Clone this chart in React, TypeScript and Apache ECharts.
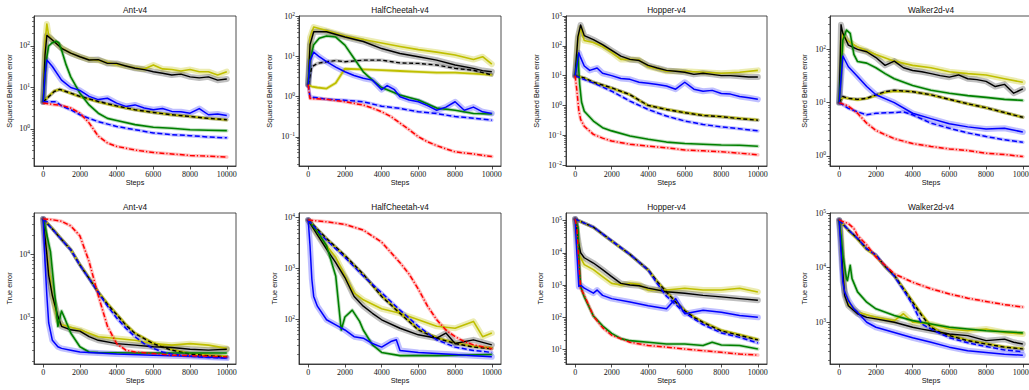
import React, { useEffect, useRef } from 'react';
import * as echarts from 'echarts';

type P = [number, number][];

const X_TICKS = [0, 2000, 4000, 6000, 8000, 10000];
const TITLES = ['Ant-v4', 'HalfCheetah-v4', 'Hopper-v4', 'Walker2d-v4'];
const Y_LABELS = ['Squared Bellman error', 'True error'];

// ---------- Ant-v4, squared Bellman error ----------
const antB_red: P = [[0, 4.2], [500, 3.9], [1000, 3.7], [1500, 3.2], [2000, 2.4], [2500, 1.4], [3000, 0.67], [3500, 0.46], [4000, 0.38], [5000, 0.31], [6000, 0.27], [7000, 0.25], [8000, 0.23], [9000, 0.22], [10000, 0.21]];
const antB_blueD: P = [[0, 4.5], [400, 4.5], [700, 4.5], [1000, 3.6], [1500, 2.9], [2000, 2.2], [2500, 1.8], [3000, 1.5], [4000, 1.15], [5000, 0.96], [6000, 0.8], [7000, 0.73], [8000, 0.69], [9000, 0.64], [10000, 0.61]];
const antB_green: P = [[0, 4.5], [150, 40], [300, 100], [500, 120], [700, 130], [850, 120], [1000, 80], [1250, 35], [1500, 18], [2000, 7.3], [2500, 3.8], [3000, 2.4], [3500, 1.8], [4000, 1.6], [5000, 1.27], [6000, 1.1], [7000, 1.04], [8000, 0.96], [9000, 0.93], [10000, 0.91]];
const antB_blueS: P = [[0, 4.5], [100, 20], [200, 46], [500, 32], [1000, 15], [1500, 10], [2000, 8.5], [2500, 6.1], [3000, 5.1], [3500, 5.5], [4000, 4.2], [4500, 3.5], [5000, 3.8], [5500, 3.2], [6000, 2.9], [6500, 3.1], [7000, 2.65], [7500, 2.6], [8000, 2.4], [8500, 3.1], [9000, 2.2], [9500, 2.3], [10000, 2.1]];
const antB_blackD: P = [[0, 4.5], [300, 6], [600, 8], [900, 9], [1500, 7.3], [2000, 6.1], [3000, 4.6], [4000, 3.6], [5000, 2.9], [6000, 2.5], [7000, 2.2], [8000, 2.0], [9000, 1.8], [10000, 1.67]];
const antB_yellowL: P = [[0, 4.5], [300, 6.2], [600, 8.2], [900, 9], [1500, 7.2], [2000, 6], [3000, 4.5], [4000, 3.5], [5000, 2.9], [6000, 2.5], [7000, 2.2], [8000, 2.0], [9000, 1.8], [10000, 1.65]];
const antB_blackS: P = [[0, 4.5], [100, 60], [200, 180], [500, 140], [1000, 88], [1500, 67], [2000, 55], [2500, 46], [3000, 47], [3500, 38], [4000, 38], [4500, 33], [5000, 29], [5500, 27], [6000, 24], [6500, 22], [7000, 20], [7500, 21], [8000, 18], [8500, 17], [9000, 18], [9500, 15], [10000, 16]];
const antB_yellowU: P = [[0, 4.5], [100, 120], [200, 340], [300, 180], [500, 140], [1000, 90], [1500, 68], [2000, 55], [2500, 47], [3000, 45], [3500, 40], [4000, 36], [4500, 33], [5000, 30], [5500, 28], [6000, 35], [6500, 28], [7000, 27], [7500, 25], [8000, 27], [8500, 24], [9000, 24], [9500, 20], [10000, 24]];

// ---------- HalfCheetah-v4, squared Bellman error ----------
const hcB_red: P = [[0, 2], [100, 0.9], [1000, 0.86], [2000, 0.75], [3000, 0.62], [3500, 0.52], [4000, 0.42], [4500, 0.32], [5000, 0.22], [5500, 0.15], [6000, 0.1], [6500, 0.075], [7000, 0.06], [7500, 0.05], [8000, 0.042], [9000, 0.037], [10000, 0.032]];
const hcB_blueD: P = [[0, 2], [100, 1.0], [1000, 0.87], [2000, 0.82], [3000, 0.75], [4000, 0.58], [5000, 0.51], [6000, 0.42], [7000, 0.38], [8000, 0.32], [9000, 0.29], [10000, 0.26]];
const hcB_blueS: P = [[0, 2], [100, 8], [300, 13], [600, 10], [1000, 7.5], [1500, 5.5], [2000, 4.2], [2500, 3.4], [3000, 2.9], [3500, 2.6], [4000, 1.5], [4300, 1.9], [4700, 1.5], [5000, 1.0], [5500, 0.83], [6000, 0.75], [6500, 0.6], [7000, 0.46], [7500, 0.55], [8000, 0.75], [8500, 0.46], [9000, 0.55], [9500, 0.42], [10000, 0.38]];
const hcB_green: P = [[0, 2], [100, 8], [300, 20], [600, 29], [1000, 33], [1500, 31], [2000, 19.5], [2500, 9], [3000, 4.2], [3500, 2.6], [4000, 1.7], [5000, 1.1], [6000, 0.83], [7000, 0.52], [8000, 0.46], [9000, 0.38], [10000, 0.37]];
const hcB_blackS: P = [[0, 2], [100, 20], [300, 42], [1000, 42], [2000, 31], [3000, 24], [4000, 16], [5000, 12], [6000, 10], [7000, 8.2], [8000, 6.2], [9000, 5.1], [9500, 4.5], [10000, 4.2]];
const hcB_blackD: P = [[0, 2], [200, 5.6], [500, 6.8], [1000, 7.5], [1500, 8], [2000, 7.5], [3000, 8.2], [4000, 8.2], [5000, 7], [6000, 6.8], [7000, 6.2], [8000, 5.1], [9000, 4.6], [10000, 3.5]];
const hcB_yellowU: P = [[0, 2], [100, 30], [300, 55], [1000, 45], [2000, 33], [3000, 27], [4000, 22], [5000, 18], [6000, 15], [7000, 13], [8000, 11], [9000, 8.5], [9500, 10], [10000, 6.5]];
const hcB_yellowL: P = [[0, 2], [200, 1.8], [500, 1.7], [1000, 1.6], [1500, 2.2], [2000, 5], [3000, 4.8], [4000, 4.6], [5000, 4.4], [6000, 4.2], [7000, 4], [8000, 4], [9000, 3.8], [10000, 3.5]];

// ---------- Hopper-v4, squared Bellman error ----------
const hoB_red: P = [[0, 10], [100, 3], [200, 0.7], [300, 0.34], [500, 0.2], [1000, 0.107], [1500, 0.08], [2000, 0.064], [3000, 0.05], [4000, 0.043], [5000, 0.038], [6000, 0.032], [7000, 0.03], [8000, 0.028], [9000, 0.025], [10000, 0.022]];
const hoB_green: P = [[0, 10], [150, 50], [250, 5], [350, 1.3], [500, 0.64], [1000, 0.3], [1500, 0.18], [2000, 0.14], [3000, 0.095], [4000, 0.073], [5000, 0.059], [6000, 0.053], [7000, 0.05], [8000, 0.047], [9000, 0.046], [10000, 0.043]];
const hoB_blueD: P = [[0, 10], [500, 7.4], [1000, 5.7], [2000, 3.0], [3000, 1.4], [4000, 0.73], [5000, 0.44], [6000, 0.3], [7000, 0.23], [8000, 0.19], [9000, 0.165], [10000, 0.14]];
const hoB_blackD: P = [[0, 10], [500, 8.4], [1000, 6], [2000, 3.9], [3000, 2.3], [3500, 1.5], [4000, 1.0], [5000, 0.73], [6000, 0.57], [7000, 0.46], [8000, 0.42], [9000, 0.36], [10000, 0.32]];
const hoB_yellowL: P = [[0, 10], [500, 8.3], [1000, 6], [2000, 3.8], [3000, 2.3], [3500, 1.5], [4000, 1.0], [5000, 0.74], [6000, 0.58], [7000, 0.47], [8000, 0.42], [9000, 0.37], [10000, 0.33]];
const hoB_blueS: P = [[0, 10], [200, 58], [300, 40], [500, 21], [800, 15], [1200, 18], [1500, 12], [2000, 10], [2500, 8], [3000, 7.5], [3500, 6], [4000, 5.5], [4500, 5], [5000, 4.5], [5500, 3.5], [6000, 6], [6500, 3.5], [7000, 3.0], [7500, 3.2], [8000, 2.5], [8500, 2.4], [9000, 2.0], [9500, 1.8], [10000, 1.6]];
const hoB_blackS: P = [[0, 10], [150, 200], [300, 500], [500, 220], [1000, 160], [1500, 110], [2000, 70], [2500, 45], [3000, 35], [3500, 32], [4000, 22], [4500, 18], [5000, 15], [5500, 14], [6000, 13], [6500, 11], [7000, 12], [7500, 11], [8000, 10], [8500, 10], [9000, 9.5], [9500, 9], [10000, 9]];
const hoB_yellowU: P = [[0, 10], [150, 150], [300, 400], [500, 150], [1000, 130], [1500, 95], [2000, 60], [2500, 35], [3000, 35], [3500, 34], [4000, 20], [4500, 17], [5000, 14], [6000, 14], [7000, 13], [8000, 12], [9000, 13], [10000, 15]];

// ---------- Walker2d-v4, squared Bellman error ----------
const wkB_red: P = [[0, 10], [500, 8.6], [1000, 6.3], [1500, 4.1], [2000, 3.0], [2500, 2.5], [3000, 2.1], [4000, 1.7], [5000, 1.5], [6000, 1.35], [7000, 1.26], [8000, 1.12], [9000, 1.06], [10000, 0.97]];
const wkB_blueD: P = [[0, 10], [500, 7.8], [1000, 6.7], [1500, 5.9], [2000, 6.3], [3000, 6.5], [3500, 6.7], [4000, 5.9], [5000, 4.1], [6000, 3.3], [7000, 2.7], [8000, 2.3], [9000, 2.0], [10000, 1.8]];
const wkB_blueS: P = [[0, 10], [200, 75], [500, 47], [1000, 31], [1500, 20], [2000, 14], [3000, 10], [4000, 6.3], [5000, 5], [6000, 4], [7000, 3.5], [8000, 3.2], [9000, 3.3], [10000, 2.8]];
const wkB_green: P = [[0, 10], [200, 150], [400, 230], [600, 200], [800, 80], [1000, 59], [1500, 55], [2000, 45], [2500, 35], [3000, 28], [4000, 21], [5000, 17], [6000, 15], [7000, 13.5], [8000, 12.5], [9000, 11.5], [10000, 11]];
const wkB_blackD: P = [[0, 10], [200, 13], [500, 12], [1000, 11.5], [1500, 12], [2000, 14], [2500, 16], [3000, 17], [4000, 16], [5000, 14], [6000, 11.5], [7000, 9.5], [8000, 8], [9000, 6.5], [10000, 5.3]];
const wkB_yellowL: P = [[0, 10], [200, 12.5], [500, 12], [1000, 11.3], [1500, 12], [2000, 13.5], [2500, 15.5], [3000, 16.5], [4000, 16], [5000, 14], [6000, 11.5], [7000, 9.5], [8000, 8], [9000, 6.5], [10000, 5.3]];
const wkB_blackS: P = [[0, 10], [100, 290], [200, 200], [300, 170], [500, 120], [1000, 100], [1500, 90], [2000, 70], [2500, 50], [3000, 60], [3500, 45], [4000, 40], [4500, 38], [5000, 35], [5500, 32], [6000, 30], [6500, 33], [7000, 28], [7500, 27], [8000, 25], [8500, 20], [9000, 22], [9500, 15], [10000, 18]];
const wkB_yellowU: P = [[0, 10], [200, 200], [400, 150], [1000, 110], [2000, 80], [3000, 60], [4000, 50], [5000, 45], [6000, 38], [7000, 35], [8000, 33], [9000, 28], [10000, 24]];

// ---------- Ant-v4, true error ----------
const antT_red: P = [[0, 36000], [500, 35000], [1000, 33000], [1500, 28000], [2000, 19400], [2500, 7600], [3000, 2200], [3500, 715], [4000, 380], [4500, 300], [5000, 280], [6000, 265], [7000, 250], [8000, 245], [9000, 240], [10000, 235]];
const antT_blueD: P = [[0, 36000], [500, 25000], [1000, 17000], [1500, 11700], [2000, 6700], [2500, 4100], [3000, 2470], [3500, 1500], [4000, 970], [4500, 670], [5000, 490], [5500, 380], [6000, 320], [6500, 280], [7000, 260], [8000, 240], [9000, 230], [10000, 225]];
const antT_blackD: P = [[0, 36000], [500, 25000], [1000, 17000], [1500, 11700], [2000, 6700], [2500, 4100], [3000, 2470], [3500, 1600], [4000, 1100], [4500, 750], [5000, 550], [6000, 380], [7000, 300], [8000, 260], [9000, 245], [10000, 235]];
const antT_yellowL: P = [[0, 36000], [500, 25500], [1000, 17200], [1500, 11800], [2000, 6800], [2500, 4200], [3000, 2500], [3500, 1650], [4000, 1120], [4500, 770], [5000, 560], [6000, 390], [7000, 305], [8000, 265], [9000, 250], [10000, 240]];
const antT_blueS: P = [[0, 36000], [100, 7600], [200, 2200], [300, 810], [500, 430], [800, 340], [1000, 320], [1500, 300], [2000, 280], [3000, 270], [4000, 260], [6000, 250], [8000, 240], [10000, 225]];
const antT_green: P = [[0, 36000], [200, 20000], [400, 10800], [600, 2800], [800, 715], [1000, 1250], [1200, 920], [1500, 560], [2000, 340], [2500, 280], [3000, 275], [5000, 270], [10000, 270]];
const antT_blackS: P = [[0, 36000], [200, 9800], [300, 4600], [500, 2200], [800, 1030], [1000, 715], [1500, 630], [2000, 600], [2500, 490], [3000, 430], [4000, 380], [5000, 360], [6000, 340], [7000, 330], [8000, 310], [9000, 300], [10000, 310]];
const antT_yellowU: P = [[0, 36000], [200, 10800], [500, 2200], [800, 870], [1000, 760], [2000, 630], [3000, 490], [4000, 460], [5000, 430], [6000, 380], [7000, 360], [8000, 380], [9000, 360], [10000, 320]];

// ---------- HalfCheetah-v4, true error ----------
const hcT_red: P = [[0, 9000], [1000, 8300], [2000, 7400], [3000, 5700], [4000, 3300], [5000, 1300], [5500, 770], [6000, 390], [6500, 180], [7000, 97], [7500, 61], [8000, 45], [8500, 36], [9000, 31], [10000, 26]];
const hcT_blueD: P = [[0, 9000], [1000, 3600], [2000, 1660], [3000, 710], [4000, 330], [5000, 150], [6000, 72], [7000, 39], [8000, 28], [9000, 24], [10000, 22]];
const hcT_blackD: P = [[0, 9000], [1000, 3900], [2000, 1800], [3000, 770], [4000, 280], [5000, 130], [6000, 61], [7000, 42], [8000, 33], [9000, 28], [10000, 26]];
const hcT_yellowL: P = [[0, 9000], [1000, 3800], [2000, 1750], [3000, 750], [4000, 290], [5000, 135], [6000, 63], [7000, 43], [8000, 34], [9000, 29], [10000, 27]];
const hcT_blackS: P = [[0, 9000], [500, 4600], [1000, 2400], [1500, 1300], [2000, 660], [2500, 280], [3000, 180], [3500, 130], [4000, 97], [5000, 66], [6000, 49], [7000, 42], [7500, 53], [8000, 33], [9000, 39], [10000, 31]];
const hcT_yellowU: P = [[0, 9000], [500, 4900], [1000, 2800], [1500, 1660], [2000, 710], [2500, 330], [3000, 240], [4000, 160], [5000, 130], [6000, 97], [7000, 72], [8000, 66], [9000, 90], [9500, 45], [10000, 53]];
const hcT_green: P = [[0, 9000], [500, 5300], [1000, 2800], [1500, 710], [1800, 61], [2000, 110], [2400, 150], [2800, 90], [3000, 61], [3500, 31], [4000, 22], [5000, 19], [7000, 19], [10000, 20]];
const hcT_blueS: P = [[0, 9000], [100, 2800], [200, 610], [300, 280], [500, 180], [1000, 97], [1500, 77], [2000, 61], [2500, 45], [3000, 42], [3500, 33], [4000, 28], [4500, 36], [4800, 39], [5000, 24], [6000, 22], [7000, 21], [8000, 20], [9000, 19], [10000, 18]];

// ---------- Hopper-v4, true error ----------
const hoT_blackD: P = [[0, 110000], [1000, 62000], [2000, 23400], [3000, 8900], [4000, 2960], [4500, 1270], [5000, 610], [5500, 300], [6000, 160], [6500, 100], [7000, 70], [8000, 38], [9000, 28], [10000, 20]];
const hoT_yellowL: P = [[0, 110000], [1000, 61000], [2000, 23000], [3000, 8800], [4000, 2900], [4500, 1250], [5000, 620], [5500, 310], [6000, 165], [6500, 105], [7000, 72], [8000, 40], [9000, 29], [10000, 21]];
const hoT_blueD: P = [[0, 110000], [1000, 62000], [2000, 23400], [3000, 8900], [4000, 2900], [4500, 1100], [5000, 450], [5500, 250], [6000, 140], [6500, 90], [7000, 60], [8000, 33], [9000, 24], [10000, 16]];
const hoT_red: P = [[0, 110000], [100, 60000], [200, 5500], [300, 800], [500, 480], [1000, 110], [1500, 48], [2000, 28], [3000, 17], [4000, 13.5], [5000, 12], [6000, 10.5], [7000, 9.3], [8000, 8.3], [9000, 7.3], [10000, 6.8]];
const hoT_green: P = [[0, 110000], [150, 62000], [200, 8900], [300, 900], [500, 430], [1000, 110], [1500, 55], [2000, 32], [2500, 22], [3000, 19], [4000, 17], [5000, 15], [6000, 15], [7000, 13.5], [7500, 17], [8000, 14], [9000, 13.5], [10000, 10.5]];
const hoT_blueS: P = [[0, 110000], [100, 8900], [200, 900], [300, 1000], [500, 800], [1000, 560], [1200, 700], [1500, 480], [2000, 380], [3000, 300], [4000, 230], [5000, 185], [5500, 380], [6000, 130], [7000, 165], [8000, 145], [9000, 115], [10000, 100]];
const hoT_blackS: P = [[0, 110000], [200, 18000], [300, 10000], [500, 7000], [1000, 4800], [1500, 3000], [2000, 1830], [2500, 1130], [3000, 1000], [3500, 950], [4000, 800], [5000, 620], [6000, 560], [7000, 480], [8000, 430], [9000, 380], [10000, 340]];
const hoT_yellowU: P = [[0, 110000], [200, 8900], [500, 4300], [1000, 3000], [1500, 1830], [2000, 1130], [2500, 1000], [3000, 1130], [3500, 1050], [4000, 700], [5000, 700], [6000, 800], [7000, 700], [8000, 700], [9000, 800], [10000, 610]];

// ---------- Walker2d-v4, true error ----------
const wkT_red: P = [[0, 74000], [500, 64000], [800, 52000], [1000, 39000], [1500, 26000], [2000, 15700], [2500, 11000], [3000, 7700], [4000, 5400], [5000, 4100], [6000, 3300], [7000, 2760], [8000, 2400], [9000, 2100], [10000, 1900]];
const wkT_blackD: P = [[0, 74000], [500, 49000], [1000, 34000], [1500, 22000], [2000, 17000], [2500, 10500], [3000, 7200], [3500, 4100], [4000, 2330], [4500, 1330], [5000, 810], [5500, 650], [6000, 570], [7000, 460], [8000, 400], [9000, 350], [10000, 325]];
const wkT_yellowL: P = [[0, 74000], [500, 48000], [1000, 33000], [1500, 21500], [2000, 16500], [2500, 10300], [3000, 7100], [3500, 4200], [4000, 2400], [4500, 1400], [5000, 850], [5500, 670], [6000, 580], [7000, 470], [8000, 405], [9000, 355], [10000, 330]];
const wkT_blueD: P = [[0, 74000], [500, 49000], [1000, 34000], [1500, 22000], [2000, 17000], [2500, 10500], [3000, 7000], [3500, 3900], [4000, 2100], [4500, 930], [5000, 750], [6000, 520], [7000, 420], [8000, 360], [9000, 310], [10000, 290]];
const wkT_green: P = [[0, 74000], [100, 39000], [200, 17000], [400, 6300], [450, 5800], [600, 11000], [700, 6300], [1000, 3600], [1500, 2330], [2000, 1760], [3000, 1330], [4000, 1070], [5000, 930], [6000, 810], [7000, 750], [8000, 700], [9000, 670], [10000, 640]];
const wkT_blueS: P = [[0, 74000], [100, 19400], [200, 5400], [300, 3600], [500, 2500], [800, 1760], [1000, 1530], [1500, 1000], [2000, 810], [3000, 650], [4000, 520], [5000, 430], [6000, 350], [7000, 300], [8000, 280], [9000, 260], [10000, 250]];
const wkT_blackS: P = [[0, 74000], [100, 30000], [200, 8300], [300, 3100], [500, 2000], [1000, 1430], [1500, 1230], [2000, 1150], [3000, 1000], [4000, 810], [4500, 750], [5000, 700], [6000, 610], [7000, 570], [8000, 460], [9000, 490], [9500, 430], [10000, 400]];
const wkT_yellowU: P = [[0, 74000], [100, 45000], [200, 9600], [300, 3600], [500, 2170], [1000, 1530], [2000, 1230], [3000, 1070], [3500, 1430], [4000, 1000], [5000, 930], [6000, 750], [7000, 700], [8000, 750], [9000, 650], [10000, 610]];

// y-axis extents
const Y_MIN = [0.128, 0.0186, 0.0093, 0.645, 181, 13, 3.6, 172];
const Y_MAX = [528, 104, 1000, 422, 44700, 12400, 170000, 100000];

type Lines = { yellowL: P; yellowU: P; blackS: P; blackD: P; green: P; blueS: P; blueD: P; red: P };
const PANEL_LINES: Lines[] = [
  { yellowL: antB_yellowL, yellowU: antB_yellowU, blackS: antB_blackS, blackD: antB_blackD, green: antB_green, blueS: antB_blueS, blueD: antB_blueD, red: antB_red },
  { yellowL: hcB_yellowL, yellowU: hcB_yellowU, blackS: hcB_blackS, blackD: hcB_blackD, green: hcB_green, blueS: hcB_blueS, blueD: hcB_blueD, red: hcB_red },
  { yellowL: hoB_yellowL, yellowU: hoB_yellowU, blackS: hoB_blackS, blackD: hoB_blackD, green: hoB_green, blueS: hoB_blueS, blueD: hoB_blueD, red: hoB_red },
  { yellowL: wkB_yellowL, yellowU: wkB_yellowU, blackS: wkB_blackS, blackD: wkB_blackD, green: wkB_green, blueS: wkB_blueS, blueD: wkB_blueD, red: wkB_red },
  { yellowL: antT_yellowL, yellowU: antT_yellowU, blackS: antT_blackS, blackD: antT_blackD, green: antT_green, blueS: antT_blueS, blueD: antT_blueD, red: antT_red },
  { yellowL: hcT_yellowL, yellowU: hcT_yellowU, blackS: hcT_blackS, blackD: hcT_blackD, green: hcT_green, blueS: hcT_blueS, blueD: hcT_blueD, red: hcT_red },
  { yellowL: hoT_yellowL, yellowU: hoT_yellowU, blackS: hoT_blackS, blackD: hoT_blackD, green: hoT_green, blueS: hoT_blueS, blueD: hoT_blueD, red: hoT_red },
  { yellowL: wkT_yellowL, yellowU: wkT_yellowU, blackS: wkT_blackS, blackD: wkT_blackD, green: wkT_green, blueS: wkT_blueS, blueD: wkT_blueD, red: wkT_red },
];

// ---------- styles / layout ----------
const COL_LEFT = [34, 299, 566, 830];
const COL_WIDTH = [202, 202, 201, 202];
const ROW_TOP = [16, 213];
const ROW_HEIGHT = [150, 151];
const TITLE_Y = [10, 207];
const Y_NAME_GAP = [21, 26, 26, 22, 21, 21, 22, 22];

const STYLE: Record<keyof Lines, { color: string; band: string; width: number; halo: number; type: any }> = {
  yellowL: { color: '#bfbf00', band: 'rgba(191,191,0,0.3)', width: 1.8, halo: 3.5, type: 'solid' },
  yellowU: { color: '#bfbf00', band: 'rgba(191,191,0,0.3)', width: 1.6, halo: 6, type: 'solid' },
  blackS: { color: '#000000', band: 'rgba(0,0,0,0.25)', width: 1.4, halo: 6, type: 'solid' },
  blackD: { color: '#000000', band: 'rgba(0,0,0,0.25)', width: 1.4, halo: 3.5, type: [4, 2.5] },
  green: { color: '#008000', band: 'rgba(0,128,0,0.25)', width: 1.6, halo: 3.5, type: 'solid' },
  blueS: { color: '#0000ff', band: 'rgba(0,0,255,0.25)', width: 1.5, halo: 6, type: 'solid' },
  blueD: { color: '#0000ff', band: 'rgba(0,0,255,0.25)', width: 1.5, halo: 3.5, type: [5, 2.5] },
  red: { color: '#ff0000', band: 'rgba(255,0,0,0.25)', width: 1.5, halo: 3.5, type: [5, 2, 1.2, 2] },
};
const ORDER: (keyof Lines)[] = ['yellowL', 'yellowU', 'blackS', 'blackD', 'green', 'blueS', 'blueD', 'red'];

const SERIF = "'Liberation Serif', 'DejaVu Serif', serif";
const SANS = "'Liberation Sans', 'DejaVu Sans', sans-serif";

function decadeTicks(min: number, max: number) {
  const major: number[] = [];
  const minor: number[] = [];
  for (let d = Math.floor(Math.log10(min)); d <= Math.ceil(Math.log10(max)); d++) {
    const base = Math.pow(10, d);
    if (base >= min && base <= max) major.push(base);
    for (let k = 2; k <= 9; k++) {
      const v = k * base;
      if (v >= min && v <= max) minor.push(v);
    }
  }
  return { major, minor };
}

function buildOption() {
  const grid: any[] = [];
  const xAxis: any[] = [];
  const yAxis: any[] = [];
  const series: any[] = [];
  const graphic: any[] = [];

  for (let i = 0; i < 8; i++) {
    const row = Math.floor(i / 4);
    const col = i % 4;
    const left = COL_LEFT[col];
    const width = COL_WIDTH[col];
    const top = ROW_TOP[row];
    const height = ROW_HEIGHT[row];
    grid.push({ left, top, width, height, show: true, borderColor: '#222', borderWidth: 0.8, backgroundColor: 'transparent', containLabel: false });
    graphic.push({
      type: 'text',
      x: left + width / 2,
      y: TITLE_Y[row],
      silent: true,
      style: { text: TITLES[col], font: `8.3px ${SANS}`, fill: '#111', textAlign: 'center', textVerticalAlign: 'middle', align: 'center', verticalAlign: 'middle' },
    });
    xAxis.push({
      gridIndex: i,
      type: 'value',
      min: -500,
      max: 10500,
      axisLine: { show: true, onZero: false, lineStyle: { color: '#222', width: 0.8 } },
      axisTick: { show: true, customValues: X_TICKS, length: 3.5, lineStyle: { color: '#222', width: 0.8 } },
      axisLabel: { customValues: X_TICKS, margin: 4, fontFamily: SERIF, fontSize: 8, color: '#111', formatter: (v: number) => String(v) },
      splitLine: { show: false },
      name: 'Steps',
      nameLocation: 'middle',
      nameGap: 13,
      nameTextStyle: { fontFamily: SANS, fontSize: 7.3, color: '#111' },
    });
    const { major, minor } = decadeTicks(Y_MIN[i], Y_MAX[i]);
    yAxis.push({
      gridIndex: i,
      type: 'log',
      logBase: 10,
      min: Y_MIN[i],
      max: Y_MAX[i],
      axisLine: { show: true, onZero: false, lineStyle: { color: '#222', width: 0.8 } },
      axisTick: { show: true, customValues: major, length: 3.5, lineStyle: { color: '#222', width: 0.8 } },
      axisLabel: {
        customValues: major,
        margin: 4,
        formatter: (v: number) => {
          const e = Math.round(Math.log10(v));
          return `{b|10}{e|${e < 0 ? '\u2212' + -e : e}}`;
        },
        rich: {
          b: { fontFamily: SERIF, fontSize: 8, color: '#111' },
          e: { fontFamily: SERIF, fontSize: 5.5, color: '#111', padding: [0, 0, 5, 0] },
        },
      },
      splitLine: { show: false },
      name: Y_LABELS[row],
      nameLocation: 'middle',
      nameGap: Y_NAME_GAP[i],
      nameTextStyle: { fontFamily: SANS, fontSize: 7.3, color: '#111' },
    });
    yAxis.push({
      gridIndex: i,
      type: 'log',
      logBase: 10,
      min: Y_MIN[i],
      max: Y_MAX[i],
      position: 'left',
      axisLine: { show: false, onZero: false },
      axisTick: { show: true, customValues: minor, length: 2, lineStyle: { color: '#222', width: 0.6 } },
      axisLabel: { show: false },
      splitLine: { show: false },
    });

    const lines = PANEL_LINES[i];
    ORDER.forEach((key, k) => {
      const st = STYLE[key];
      series.push({
        type: 'line',
        xAxisIndex: i,
        yAxisIndex: 2 * i,
        data: lines[key],
        showSymbol: false,
        symbol: 'none',
        silent: true,
        z: 1,
        lineStyle: { color: st.band, width: st.halo, cap: 'round', join: 'round' },
      });
      series.push({
        type: 'line',
        xAxisIndex: i,
        yAxisIndex: 2 * i,
        data: lines[key],
        showSymbol: false,
        symbol: 'none',
        silent: true,
        z: 2 + k,
        lineStyle: { color: st.color, width: st.width, type: st.type, join: 'round' },
      });
    });
  }

  return { animation: false, backgroundColor: '#ffffff', grid, xAxis, yAxis, series, graphic };
}

export default function App() {
  const ref = useRef<HTMLDivElement>(null);
  useEffect(() => {
    if (!ref.current) return;
    const chart = echarts.init(ref.current, undefined, { renderer: 'svg' });
    chart.setOption(buildOption() as any);
    return () => chart.dispose();
  }, []);
  return (
    <div style={{ position: 'fixed', left: 0, top: 0, width: 1029, height: 390, overflow: 'hidden', background: '#fff' }}>
      <div ref={ref} style={{ position: 'absolute', left: 0, top: 0, width: 1045, height: 390 }} />
    </div>
  );
}
